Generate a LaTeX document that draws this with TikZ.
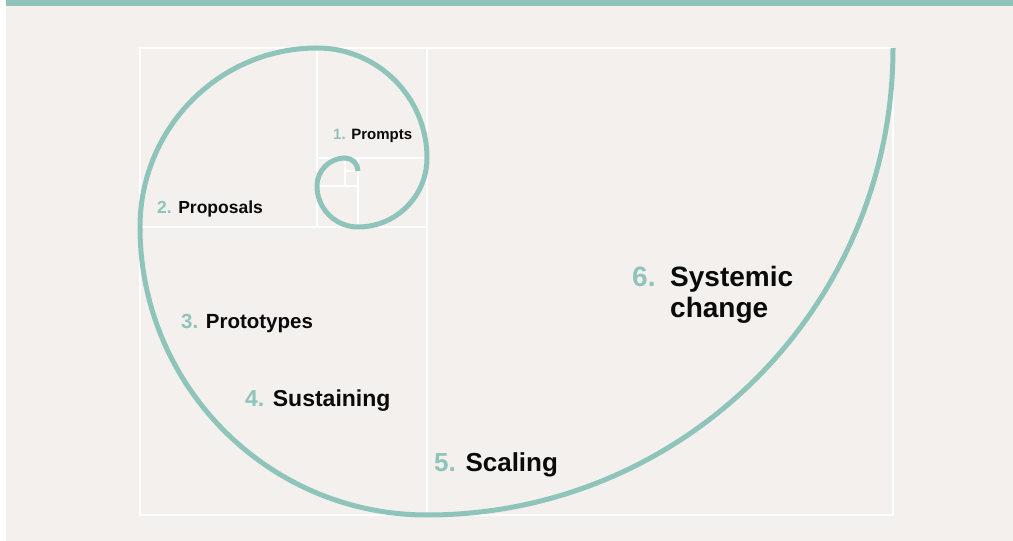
\documentclass[tikz,border=0pt]{standalone}
\usepackage{fontspec}
\setmainfont{Liberation Sans}
\definecolor{teal1}{RGB}{143,196,186}
\definecolor{bgc}{RGB}{243,240,237}
\definecolor{inkc}{RGB}{10,10,10}
\begin{document}
\begin{tikzpicture}[x=1pt,y=1pt,
  grid/.style={draw=white,line width=2.8pt},
  spiral/.style={draw=teal1,line width=5pt},
  lab/.style={anchor=base west,inner sep=0pt,text=inkc,font=\bfseries},
  num/.style={text=teal1}]
\useasboundingbox (0,0) rectangle (1013,541);
\fill[white] (0,0) rectangle (1013,541);
\fill[bgc] (6,0) rectangle (1013,541);
\fill[teal1] (6,535) rectangle (1013,541);
% golden rectangle grid
\coordinate (o1) at (140,26);
\coordinate (o2) at (893,493);
\draw[grid] (o1) rectangle (o2);
\draw[grid] (427,493) -- (427,26);
\draw[grid] (140,314) -- (427,314);
\draw[grid] (317,493) -- (317,314);
\draw[grid] (317,383) -- (427,383);
\draw[grid] (358,383) -- (358,314);
\draw[grid] (317,355) -- (358,355);
\draw[grid] (345,383) -- (345,355);
\draw[grid] (345,370) -- (358,370);
% spiral
\coordinate (s0) at (893,493);
\draw[spiral,line cap=butt] (s0)
  arc[start angle=0,end angle=-90,x radius=466,y radius=467]
  arc[start angle=-90,end angle=-180,x radius=287,y radius=288]
  arc[start angle=180,end angle=90,x radius=177,y radius=179]
  arc[start angle=90,end angle=0,x radius=110,y radius=110]
  arc[start angle=0,end angle=-90,x radius=69,y radius=69]
  arc[start angle=-90,end angle=-180,x radius=41,y radius=41]
  arc[start angle=180,end angle=90,x radius=28,y radius=28]
  arc[start angle=90,end angle=0,x radius=13,y radius=13];
% labels
\node[lab,font=\bfseries\fontsize{15}{18}\selectfont] (l1) at (333,401) {\textcolor{teal1}{1.} Prompts};
\node[lab,font=\bfseries\fontsize{17.5}{21}\selectfont] (l2) at (157,327) {\textcolor{teal1}{2.} Proposals};
\node[lab,font=\bfseries\fontsize{20.5}{24}\selectfont] (l3) at (181,212) {\textcolor{teal1}{3.} Prototypes};
\node[lab,font=\bfseries\fontsize{23}{27}\selectfont] (l4) at (245,134) {\textcolor{teal1}{4.} Sustaining};
\node[lab,font=\bfseries\fontsize{26}{30}\selectfont] (l5) at (434,69) {\textcolor{teal1}{5.} Scaling};
\node[lab,font=\bfseries\fontsize{28}{32}\selectfont,text=teal1] (l6n) at (632,254) {6.};
\node[lab,font=\bfseries\fontsize{28}{32}\selectfont] (l6a) at (670,254) {Systemic};
\node[lab,font=\bfseries\fontsize{28}{32}\selectfont] (l6b) at (670,223) {change};
\end{tikzpicture}
\end{document}
